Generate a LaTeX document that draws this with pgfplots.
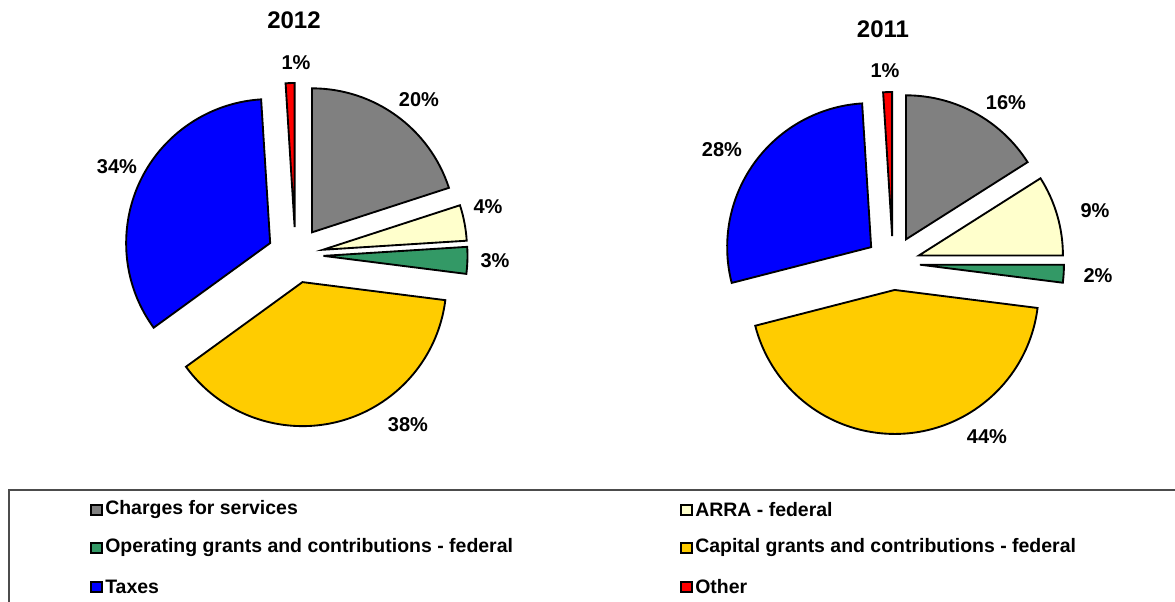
\documentclass[border=0pt]{standalone}
\usepackage{fontspec}
\setmainfont{Liberation Sans}
\usepackage{pgfplots}
\usepackage{pgfplotstable}
\pgfplotsset{compat=1.18}

\definecolor{cgray}{HTML}{808080}
\definecolor{carra}{HTML}{FFFFCC}
\definecolor{cgreen}{HTML}{339966}
\definecolor{cgold}{HTML}{FFCC00}
\definecolor{cblue}{HTML}{0000FF}
\definecolor{cred}{HTML}{FF0000}

% shares (percent), clockwise from 12 o'clock; lx ly = label position
% order: charges, ARRA, operating grants, capital grants, taxes, other
\pgfplotstableread{
value col lx ly
20 cgray 419 502
4 carra 488 395
3 cgreen 495 341
38 cgold 408 177
34 cblue 117 435
1 cred 296 539
}\pieA

\pgfplotstableread{
value col lx ly
16 cgray 1006 499
9 carra 1095 391
2 cgreen 1098 326
44 cgold 987 165
28 cblue 722 452
1 cred 885 531
}\pieB

% #1 table, #2 #3 centre, #4 radius, #5 explode distance
\newcommand\drawpie[5]{%
  \pgfplotstablegetrowsof{#1}%
  \pgfmathtruncatemacro\nrows{\pgfplotsretval-1}%
  \gdef\startang{90}%
  \foreach \i in {0,...,\nrows}{%
    \pgfplotstablegetelem{\i}{value}\of{#1}\let\sval\pgfplotsretval
    \pgfplotstablegetelem{\i}{col}\of{#1}\let\scol\pgfplotsretval
    \pgfplotstablegetelem{\i}{lx}\of{#1}\let\slx\pgfplotsretval
    \pgfplotstablegetelem{\i}{ly}\of{#1}\let\sly\pgfplotsretval
    \pgfmathsetmacro\endang{\startang-3.6*\sval}%
    \pgfmathsetmacro\midang{(\startang+\endang)/2}%
    \pgfmathsetmacro\ax{#2+#5*cos(\midang)}%
    \pgfmathsetmacro\ay{#3+#5*sin(\midang)}%
    \filldraw[fill=\scol, draw=black, line width=1.4pt]
      (axis cs:\ax,\ay) -- ++(\startang:#4*0.75pt)
      arc[start angle=\startang, end angle=\endang, radius=#4*0.75pt] -- cycle;
    \node[font=\bfseries\fontsize{15}{18}\selectfont] at (axis cs:\slx,\sly) {\sval\%};
    \global\let\startang\endang
  }%
}

\begin{document}
\begin{tikzpicture}
\begin{axis}[
    x=0.75pt, y=0.75pt,
    xmin=0, xmax=1175, ymin=0, ymax=602,
    hide axis,
]
\pgfplotsextra{%
  \drawpie{\pieA}{295.5}{347}{144}{28}%
  \drawpie{\pieB}{893}{339}{144}{27}%
  % legend
  \draw[black!70, line width=0.8pt] (axis cs:9,112) rectangle (axis cs:1250,-30);
  \foreach \legx/\legy/\legcol/\legtext in {
      91/92/cgray/Charges for services,
      681/92/carra/ARRA - federal,
      91/54/cgold!0!cgreen/Operating grants and contributions - federal,
      681/54/cgold/Capital grants and contributions - federal,
      91/15/cblue/Taxes,
      681/15/cred/Other}{
    \filldraw[fill=\legcol, draw=black, line width=1pt]
      (axis cs:\legx,\legy-5) rectangle (axis cs:\legx+11,\legy+5);
    \node[anchor=west, inner sep=0pt, font=\bfseries\fontsize{14.6}{17}\selectfont]
      at (axis cs:\legx+14,\legy) {\legtext};
  }%
}
\node[font=\bfseries\fontsize{18}{21}\selectfont] at (axis cs:294,582) {2012};
\node[font=\bfseries\fontsize{18}{21}\selectfont] at (axis cs:883,573) {2011};
\coordinate (SW) at (axis cs:0,0);
\coordinate (NE) at (axis cs:1175,602);
\end{axis}
\pgfresetboundingbox
\useasboundingbox (SW) rectangle (NE);
\end{tikzpicture}
\end{document}
